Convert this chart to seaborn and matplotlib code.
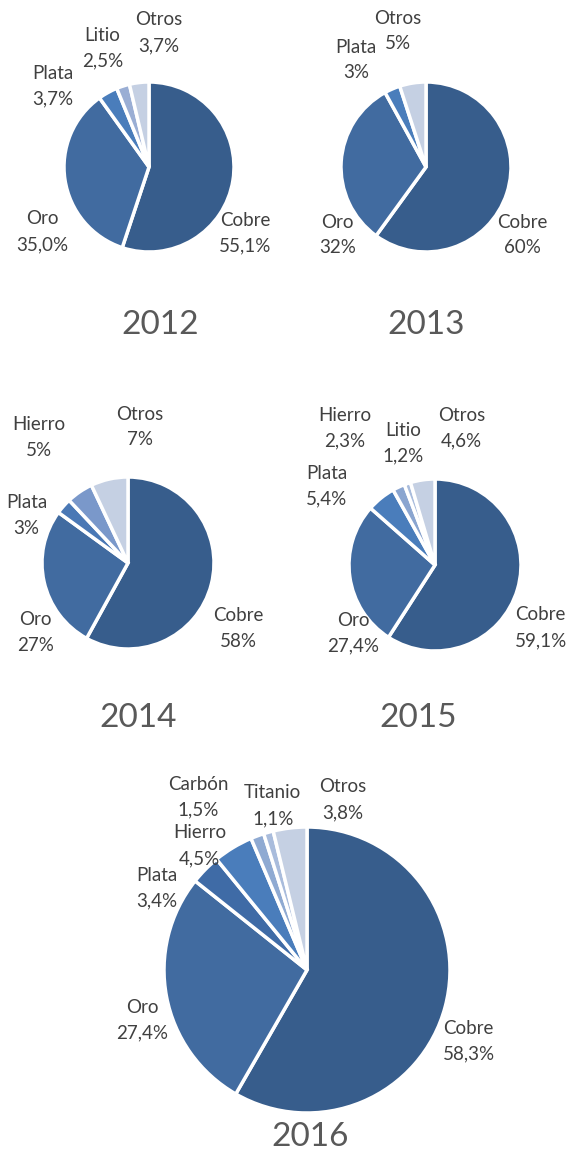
import numpy as np
import matplotlib
matplotlib.use("Agg")
import matplotlib.pyplot as plt
import seaborn as sns

# Data
years = ["2012", "2013", "2014", "2015", "2016"]

labels_2012 = ["Cobre", "Oro", "Plata", "Litio", "Otros"]
values_2012 = [55.1, 35.0, 3.7, 2.5, 3.7]

labels_2013 = ["Cobre", "Oro", "Plata", "Otros"]
values_2013 = [60, 32, 3, 5]

labels_2014 = ["Cobre", "Oro", "Plata", "Hierro", "Otros"]
values_2014 = [58, 27, 3, 5, 7]

labels_2015 = ["Cobre", "Oro", "Plata", "Hierro", "Litio", "Otros"]
values_2015 = [59.1, 27.4, 5.4, 2.3, 1.2, 4.6]

labels_2016 = ["Cobre", "Oro", "Plata", "Hierro", "Carbón", "Titanio", "Otros"]
values_2016 = [58.3, 27.4, 3.4, 4.5, 1.5, 1.1, 3.8]

sns.set_theme(style="white")
plt.rcParams['font.family'] = ['Lato', 'DejaVu Sans']

W, H = 571, 1155
fig = plt.figure(figsize=(W / 100, H / 100), dpi=100)
fig.patch.set_facecolor("white")

c_dark = "#375d8c"
c_oro = "#416ba0"
c_plata = "#4a7dbb"
c_light = "#c5d0e3"

# layout: center (px), radius (px), decimals, colors, label offsets (radius units), title pos
pies = [
    dict(labels=labels_2012, values=values_2012, cx=149, cy=167, r=85, dec=1,
         colors=[c_dark, c_oro, c_plata, "#9aaed4", c_light],
         offs=[(1.13, -0.78), (-1.26, -0.76), (-1.13, 0.95), (-0.55, 1.40), (0.11, 1.58)],
         title=(160, 325)),
    dict(labels=labels_2013, values=values_2013, cx=426, cy=167, r=85, dec=0,
         colors=[c_dark, c_oro, c_plata, c_light],
         offs=[(1.13, -0.80), (-1.04, -0.80), (-0.82, 1.26), (-0.33, 1.60)],
         title=(426, 325)),
    dict(labels=labels_2014, values=values_2014, cx=128, cy=563, r=86, dec=0,
         colors=[c_dark, c_oro, "#4a78b5", "#7a98ca", c_light],
         offs=[(1.28, -0.76), (-1.08, -0.81), (-1.18, 0.55), (-1.04, 1.46), (0.14, 1.58)],
         title=(138, 718)),
    dict(labels=labels_2015, values=values_2015, cx=435, cy=565, r=86, dec=1,
         colors=[c_dark, c_oro, c_plata, "#8aa5d0", "#a9bcdc", c_light],
         offs=[(1.23, -0.73), (-0.95, -0.79), (-1.26, 0.92), (-1.05, 1.59), (-0.37, 1.42), (0.31, 1.59)],
         title=(418, 718)),
    dict(labels=labels_2016, values=values_2016, cx=307, cy=970, r=143, dec=1,
         colors=[c_dark, c_oro, "#3f6ba6", c_plata, "#8faad2", "#a9bcdc", c_light],
         offs=[(1.13, -0.50), (-1.15, -0.35), (-1.05, 0.57), (-0.75, 0.87), (-0.76, 1.21), (-0.24, 1.15), (0.25, 1.19)],
         title=(310, 1137)),
]

for year, p in zip(years, pies):
    r = p["r"]
    ax = fig.add_axes([(p["cx"] - r) / W, 1 - (p["cy"] + r) / H, 2 * r / W, 2 * r / H])
    ax.pie(p["values"], colors=p["colors"], startangle=90, counterclock=False,
           radius=1, wedgeprops=dict(edgecolor="white", linewidth=2.5))
    ax.set_xlim(-1, 1)
    ax.set_ylim(-1, 1)
    ax.set_aspect("equal")
    ax.axis("off")
    for name, val, (dx, dy) in zip(p["labels"], p["values"], p["offs"]):
        txt = f"{val:.{p['dec']}f}%".replace(".", ",")
        ax.text(dx, dy, f"{name}\n{txt}", ha="center", va="center",
                fontsize=13.5, color="#404040", linespacing=1.62, clip_on=False)
    tx, ty = p["title"]
    fig.text(tx / W, 1 - ty / H, year, ha="center", va="center",
             fontsize=24, color="#595959")

plt.savefig("out.png", dpi=100, facecolor="white")
